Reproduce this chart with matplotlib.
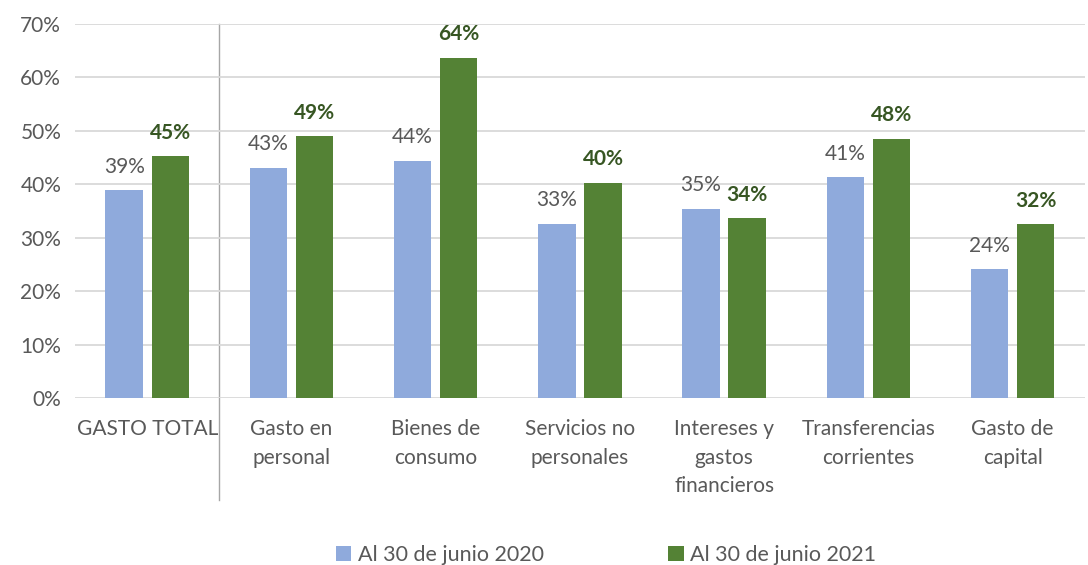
import numpy as np
import matplotlib.pyplot as plt

categories = ['GASTO TOTAL', 'Gasto en\npersonal', 'Bienes de\nconsumo', 'Servicios no\npersonales',
              'Intereses y\ngastos\nfinancieros', 'Transferencias\ncorrientes', 'Gasto de\ncapital']
jun_2020 = [38.9, 43.1, 44.4, 32.6, 35.4, 41.3, 24.1]
jun_2021 = [45.2, 49.0, 63.7, 40.3, 33.7, 48.5, 32.5]
labels = ['Al 30 de junio 2020', 'Al 30 de junio 2021']

plt.rcParams['font.family'] = ['Lato', 'DejaVu Sans']
gray = '#595959'
blue = '#8FAADC'
green = '#548235'

fig = plt.figure(figsize=(10.88, 5.65), dpi=100)
ax = fig.add_axes([0.069, 0.2956, 0.928, 0.662])

x = np.arange(len(categories))
w = 0.26
b1 = ax.bar(x - 0.16, jun_2020, w, color=blue, label=labels[0], zorder=3)
b2 = ax.bar(x + 0.16, jun_2021, w, color=green, label=labels[1], zorder=3)

for rect, v in zip(b1, jun_2020):
    ax.text(rect.get_x() + rect.get_width() / 2, v + 2.5, f'{v:.0f}%', ha='center', va='bottom',
            fontsize=15, color=gray)
for rect, v in zip(b2, jun_2021):
    ax.text(rect.get_x() + rect.get_width() / 2, v + 2.5, f'{v:.0f}%', ha='center', va='bottom',
            fontsize=15, color='#375623', fontweight='bold')

ax.set_xlim(-0.5, len(categories) - 0.5)
ax.set_ylim(0, 70)
ax.set_yticks(range(0, 71, 10))
ax.set_yticklabels([f'{t}%' for t in range(0, 71, 10)])
ax.set_xticks(x)
ax.set_xticklabels(categories, va='top', linespacing=1.55)
ax.tick_params(axis='both', length=0, labelsize=15, colors=gray)
ax.tick_params(axis='x', pad=15)
ax.tick_params(axis='y', pad=10)
ax.yaxis.grid(True, color='#D9D9D9', linewidth=1.3, zorder=0)
for s in ax.spines.values():
    s.set_visible(False)

# separator between total and breakdown
ax.axvline(0.5, ymin=-0.273, ymax=1, color='#A6A6A6', linewidth=1, clip_on=False, zorder=1)

fig.legend(handles=[b1, b2], labels=labels, loc='lower center', bbox_to_anchor=(0.557, -0.034),
           ncol=2, frameon=False, fontsize=15.5, handlelength=0.7, handleheight=0.7,
           handletextpad=0.3, columnspacing=5.8, labelcolor=gray)

fig.savefig('out.png', dpi=100)
